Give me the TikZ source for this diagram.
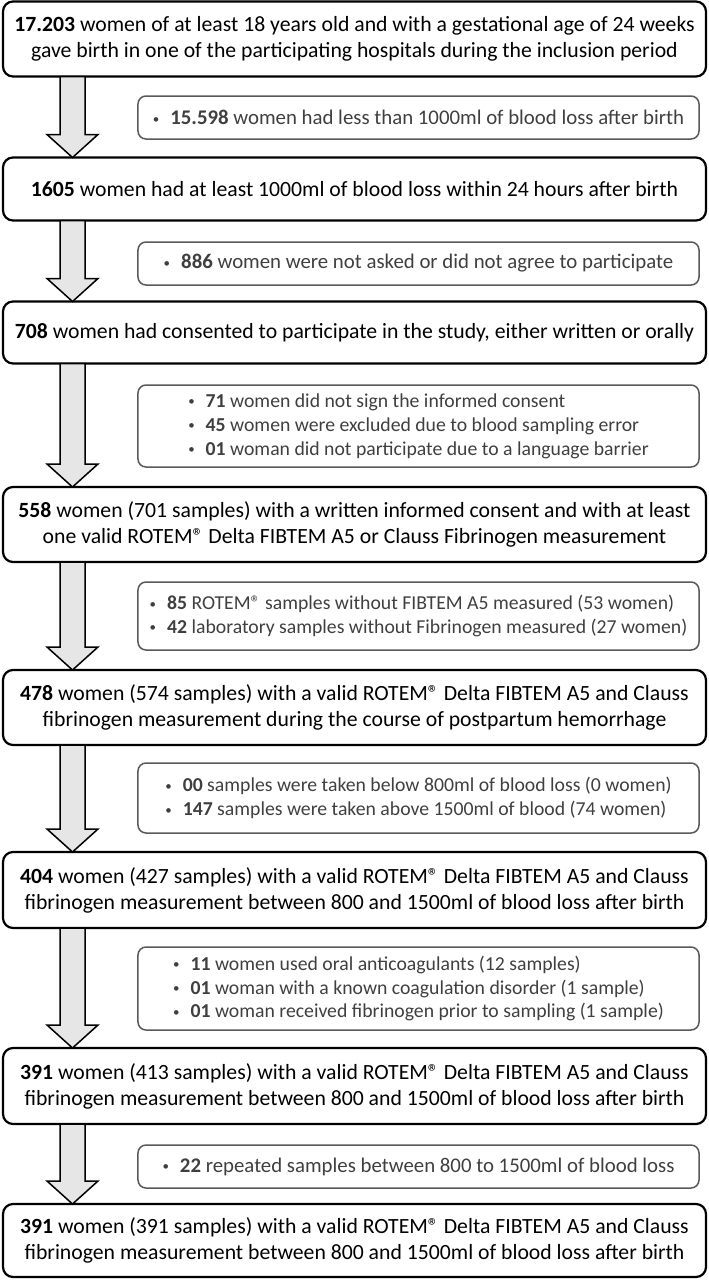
\documentclass[tikz,border=0pt]{standalone}
\usepackage{fontspec}
\setmainfont{Carlito}
\usetikzlibrary{calc}
\definecolor{sidegray}{HTML}{595959}
\definecolor{sidetext}{HTML}{3F3F3F}
\definecolor{arrowgray}{HTML}{E6E6E6}
\tikzset{
  mainbox/.style={draw=black, line width=2.2bp, rounded corners=10bp, minimum width=703bp,
    inner sep=0pt, outer sep=0pt, align=center, font=\fontsize{21.8}{26}\selectfont},
  sidebox/.style={draw=sidegray, line width=1.5bp, rounded corners=8bp, minimum width=561bp,
    inner sep=0pt, outer sep=0pt, align=left, text=sidetext, font=\fontsize{19.8}{24}\selectfont},
  sidebig/.style={sidebox, font=\fontsize{20.9}{24}\selectfont},
  flowarrow/.style={draw=black, line width=1.5bp, fill=arrowgray, line join=miter}
}
\newcommand{\itm}{\raisebox{1.5bp}{\fontsize{13}{13}\selectfont\textbullet}\hspace{11bp}}
\newcommand{\stepdown}[2]{%
  \draw[flowarrow] (60,0 |- #1.south) -- ($(60,0 |- #2.north)+(0,23)$) -- ++(-13,0)
    -- (72.5,0 |- #2.north) -- ($(98,0 |- #2.north)+(0,23)$) -- ++(-13,0)
    -- (85,0 |- #1.south) -- cycle;}

\begin{document}
\begin{tikzpicture}[x=1bp,y=1bp]
		\useasboundingbox (0,0) rectangle (709,-1281);
\par
\node[mainbox, minimum height=75bp] (women17203) at (354.5,-39) {\textbf{17.203} women of at least 18 years old and with a gestational age of 24 weeks\\gave birth in one of the participating hospitals during the inclusion period};
		\node[sidebig, minimum height=43bp] (excl1) at (418.5,-117.5) {\itm\textbf{15.598} women had less than 1000ml of blood loss after birth};
		\node[mainbox, minimum height=63bp] (women1605) at (354.5,-189) {\textbf{1605} women had at least 1000ml of blood loss within 24 hours after birth};
\par
\node[sidebig, minimum height=43bp] (excl2) at (418.5,-263.5) {\itm\textbf{886} women were not asked or did not agree to participate};
		\node[mainbox, minimum height=62bp] (women708) at (354.5,-332.5) {\textbf{708} women had consented to participate in the study, either written or orally};
\par
\node[sidebox, minimum height=82bp] (excl3) at (418.5,-426) {\itm\textbf{71} women did not sign the informed consent\\
			\itm\textbf{45} women were excluded due to blood sampling error\\
			\itm\textbf{01} woman did not participate due to a language barrier};
		\node[mainbox, minimum height=75bp] (women558) at (354.5,-524.5) {\textbf{558} women (701 samples) with a written informed consent and with at least\\one valid ROTEM® Delta FIBTEM A5 or Clauss Fibrinogen measurement};
\par
\node[sidebox, minimum height=68bp] (excl4) at (418.5,-616) {\itm\textbf{85} ROTEM® samples without FIBTEM A5 measured (53 women)\\
			\itm\textbf{42} laboratory samples without Fibrinogen measured (27 women)};
		\node[mainbox, minimum height=75bp] (women478) at (354.5,-707.5) {\textbf{478} women (574 samples) with a valid ROTEM® Delta FIBTEM A5 and Clauss\\fibrinogen measurement during the course of postpartum hemorrhage};
\par
\node[sidebox, minimum height=70bp] (excl5) at (418.5,-798) {\itm\textbf{00} samples were taken below 800ml of blood loss (0 women)\\
			\itm\textbf{147} samples were taken above 1500ml of blood (74 women)};
		\node[mainbox, minimum height=76bp] (women404) at (354.5,-890) {\textbf{404} women (427 samples) with a valid ROTEM® Delta FIBTEM A5 and Clauss\\fibrinogen measurement between 800 and 1500ml of blood loss after birth};
\par
\node[sidebox, minimum height=83bp] (excl6) at (418.5,-988.5) {\itm\textbf{11} women used oral anticoagulants (12 samples)\\
			\itm\textbf{01} woman with a known coagulation disorder (1 sample)\\
			\itm\textbf{01} woman received fibrinogen prior to sampling (1 sample)};
		\node[mainbox, minimum height=76bp] (women391a) at (354.5,-1086) {\textbf{391} women (413 samples) with a valid ROTEM® Delta FIBTEM A5 and Clauss\\fibrinogen measurement between 800 and 1500ml of blood loss after birth};
\par
\node[sidebig, minimum height=43bp] (excl7) at (418.5,-1166.5) {\itm\textbf{22} repeated samples between 800 to 1500ml of blood loss};
		\node[mainbox, minimum height=73bp] (women391b) at (354.5,-1240.5) {\textbf{391} women (391 samples) with a valid ROTEM® Delta FIBTEM A5 and Clauss\\fibrinogen measurement between 800 and 1500ml of blood loss after birth};
\par
\stepdown{women17203}{women1605}
		\stepdown{women1605}{women708}
		\stepdown{women708}{women558}
		\stepdown{women558}{women478}
		\stepdown{women478}{women404}
		\stepdown{women404}{women391a}
		\stepdown{women391a}{women391b}
	\end{tikzpicture}
\end{document}
